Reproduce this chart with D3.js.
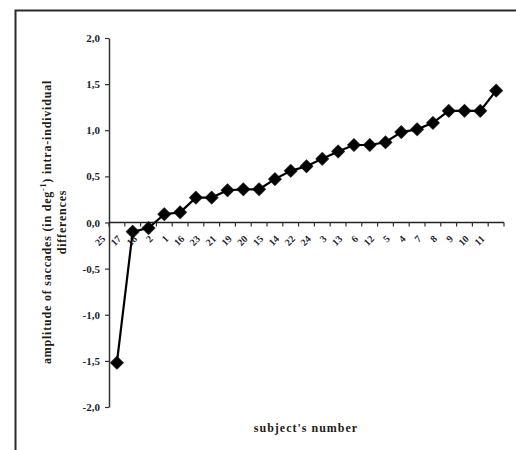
<!DOCTYPE html>
<html>
<head>
<meta charset="utf-8">
<script src="https://cdn.jsdelivr.net/npm/d3@7"></script>
<style>
  body { margin: 0; background: #fff; }
  svg text { font-family: "Liberation Serif", "DejaVu Serif", serif; font-weight: bold; }
</style>
</head>
<body>
<div id="chart"></div>
<script>
// subjects in plotted order and their intra-individual differences
const subjects = ["25", "17", "18", "2", "1", "16", "23", "21", "19", "20", "15", "14", "22",
  "24", "3", "13", "6", "12", "5", "4", "7", "8", "9", "10", "11"];
const diffs = [-1.52, -0.10, -0.06, 0.09, 0.11, 0.27, 0.27, 0.35, 0.36, 0.36, 0.47, 0.56, 0.61,
  0.69, 0.77, 0.84, 0.84, 0.87, 0.98, 1.01, 1.08, 1.21, 1.21, 1.21, 1.43];
const yTicks = [-2, -1.5, -1, -0.5, 0, 0.5, 1, 1.5, 2];

const W = 516, H = 450;
const margin = { top: 38, right: 12, bottom: 43, left: 109 };
const width = 504 - margin.left;
const height = 407 - margin.top;

const svg = d3.select("#chart").append("svg")
  .attr("width", W)
  .attr("height", H);

// outer frame (left + top edges visible)
svg.append("path")
  .attr("d", `M15.5,${H} L15.5,10.5 L${W},10.5`)
  .attr("fill", "none")
  .attr("stroke", "#2b2b2b")
  .attr("stroke-width", 2);

const g = svg.append("g").attr("transform", `translate(${margin.left},${margin.top})`);

const x = d3.scaleBand()
  .domain(d3.range(subjects.length))
  .range([0, width]);

const y = d3.scaleLinear()
  .domain([-2, 2])
  .range([height, 0]);

const loc = d3.formatLocale({ decimal: ",", thousands: ".", grouping: [3], currency: ["", ""], minus: "-" });
const fmt = loc.format(".1f");

// y axis
const yAxis = g.append("g")
  .call(d3.axisLeft(y).tickValues(yTicks).tickFormat(fmt).tickSize(4).tickSizeOuter(0));
yAxis.select(".domain").attr("stroke", "#333").attr("stroke-width", 1.5);
yAxis.selectAll(".tick line").attr("stroke", "#333").attr("stroke-width", 1.2);
yAxis.selectAll(".tick text")
  .attr("x", -9)
  .style("font-size", "11px")
  .style("font-family", "Liberation Serif, serif")
  .style("font-weight", "bold")
  .attr("fill", "#1c1f33");

// x axis at zero, ticks on category boundaries
const x0 = y(0);
g.append("line")
  .attr("x1", 0).attr("x2", width)
  .attr("y1", x0).attr("y2", x0)
  .attr("stroke", "#222").attr("stroke-width", 1.5);

g.selectAll(".xtick")
  .data(d3.range(subjects.length + 1))
  .join("line")
  .attr("class", "xtick")
  .attr("x1", (d) => d * x.step())
  .attr("x2", (d) => d * x.step())
  .attr("y1", x0).attr("y2", x0 + 4)
  .attr("stroke", "#333").attr("stroke-width", 1.2);

// category labels (drawn one slot left, as in the original figure)
g.selectAll(".xlab")
  .data(subjects)
  .join("text")
  .attr("class", "xlab")
  .attr("transform", (d, i) => {
    const cx = x(i) + x.bandwidth() / 2 - x.step() + 5;
    return `translate(${cx},${x0 + 17}) rotate(-45)`;
  })
  .attr("text-anchor", "end")
  .style("font-size", "10px")
  .attr("fill", "#1c1f33")
  .text((d) => d);

// shadow for markers
const defs = svg.append("defs");
const f = defs.append("filter").attr("id", "soft").attr("x", "-50%").attr("y", "-50%").attr("width", "200%").attr("height", "200%");
f.append("feGaussianBlur").attr("stdDeviation", 0.7);

// series line
const line = d3.line()
  .x((d, i) => x(i) + x.bandwidth() / 2)
  .y((d) => y(d));

g.append("path")
  .datum(diffs)
  .attr("fill", "none")
  .attr("stroke", "#000")
  .attr("stroke-width", 2.2)
  .attr("d", line);

// diamond markers
g.selectAll(".pt")
  .data(diffs)
  .join("path")
  .attr("class", "pt")
  .attr("d", d3.symbol(d3.symbolSquare, 96)())
  .attr("transform", (d, i) => `translate(${x(i) + x.bandwidth() / 2},${y(d)}) rotate(45)`)
  .attr("fill", "#000")
  .attr("filter", "url(#soft)");

// axis titles
const yt = svg.append("text")
  .attr("transform", `translate(51,222) rotate(-90)`)
  .attr("text-anchor", "middle")
  .style("font-size", "12px")
  .style("letter-spacing", "0.8px")
  .attr("fill", "#231a14");
yt.append("tspan").attr("x", 0).attr("dy", 0).text("amplitude of saccades (in deg");
yt.append("tspan").attr("dy", -5).style("font-size", "8px").text("-1");
yt.append("tspan").attr("dy", 5).text(") intra-individual");

svg.append("text")
  .attr("transform", `translate(66,222) rotate(-90)`)
  .attr("text-anchor", "middle")
  .style("font-size", "12px")
  .style("letter-spacing", "0.8px")
  .attr("fill", "#231a14")
  .text("differences");

svg.append("text")
  .attr("x", 306)
  .attr("y", 432)
  .attr("text-anchor", "middle")
  .style("font-size", "12px")
  .style("letter-spacing", "1px")
  .attr("fill", "#231a14")
  .text("subject's number");
</script>
</body>
</html>
